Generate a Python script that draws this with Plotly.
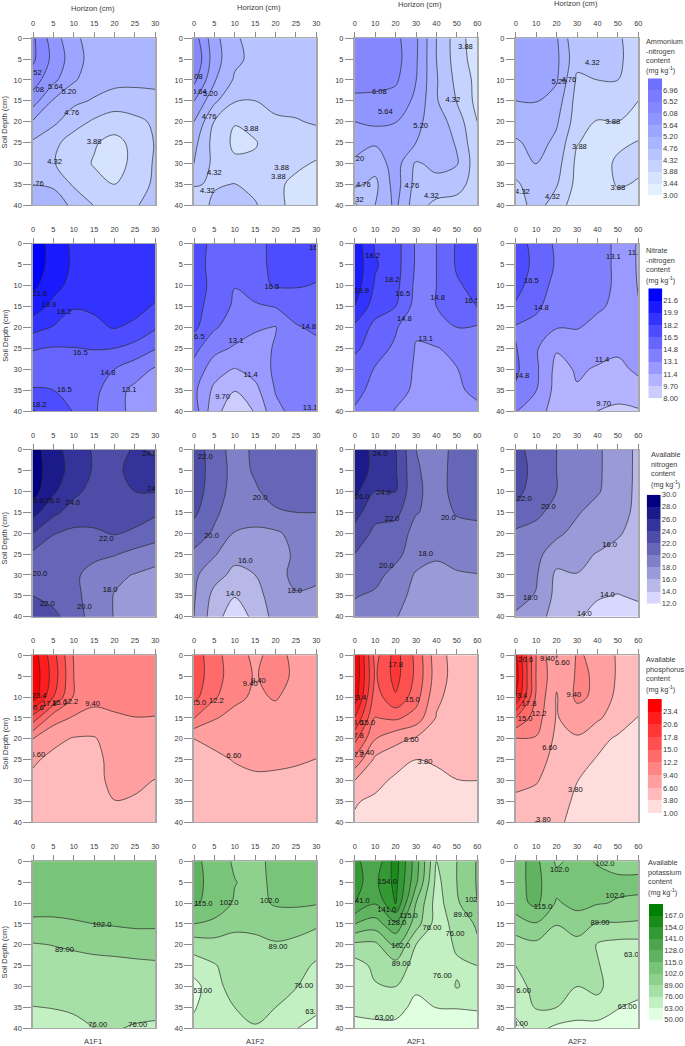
import plotly.graph_objects as go

# ---- grid of every panel: soil depth rows, horizon columns
depth = [0, 5, 10, 15, 20, 25, 30, 35, 40]
horizon_a1 = [0, 5, 10, 15, 20, 25, 30]
horizon_a2 = [0, 10, 20, 30, 40, 50, 60]
treatments = ["A1F1", "A1F2", "A2F1", "A2F2"]

# ---- ammonium nitrogen
nh4_ticks = [3.00, 3.44, 3.88, 4.32, 4.76, 5.20, 5.64, 6.08, 6.52, 6.96]
nh4_text = ["3.00", "3.44", "3.88", "4.32", "4.76", "5.20", "5.64", "6.08", "6.52", "6.96"]
nh4_colors = ["#e3f1ff", "#d5e3ff", "#c6d3ff", "#b8c4ff", "#aab5ff", "#9ca5ff", "#9096ff", "#8587ff", "#7b7bff", "#7070ff"]
nh4_a1f1 = [
    [6.60, 5.85, 5.30, 5.00, 4.95, 4.90, 4.90],
    [6.60, 5.95, 5.40, 5.00, 4.95, 4.90, 4.90],
    [6.30, 5.75, 5.25, 4.95, 4.90, 4.85, 4.85],
    [5.85, 5.15, 4.85, 4.72, 4.55, 4.60, 4.65],
    [5.15, 4.85, 4.52, 4.25, 4.10, 4.20, 4.40],
    [4.70, 4.45, 4.10, 3.92, 3.75, 4.00, 4.35],
    [4.60, 4.35, 4.05, 3.85, 3.70, 4.00, 4.38],
    [4.75, 4.72, 4.25, 4.00, 3.87, 4.10, 4.40],
    [5.00, 4.90, 4.70, 4.30, 4.25, 4.30, 4.40],
]
nh4_a1f2 = [
    [6.30, 5.35, 4.80, 4.65, 4.60, 4.60, 4.60],
    [6.50, 5.40, 4.85, 4.65, 4.60, 4.60, 4.70],
    [6.20, 5.25, 4.70, 4.60, 4.55, 4.55, 4.60],
    [5.65, 4.85, 4.35, 4.32, 4.45, 4.50, 4.55],
    [5.20, 4.30, 3.90, 4.05, 4.25, 4.28, 4.38],
    [4.90, 4.15, 3.80, 3.85, 4.10, 4.10, 4.05],
    [4.76, 4.20, 3.95, 3.95, 4.00, 3.95, 3.85],
    [4.35, 4.28, 4.33, 4.15, 3.95, 3.80, 3.75],
    [4.10, 4.40, 4.45, 4.37, 3.95, 3.80, 3.70],
]
nh4_a2f1 = [
    [6.30, 6.30, 6.20, 5.72, 4.76, 4.10, 3.60],
    [6.30, 6.30, 6.25, 5.70, 4.76, 4.12, 3.65],
    [6.30, 6.25, 6.15, 5.65, 4.80, 4.20, 3.75],
    [5.95, 5.95, 5.90, 5.55, 4.80, 4.30, 3.75],
    [5.64, 5.75, 5.66, 5.30, 5.00, 4.55, 3.88],
    [5.45, 5.25, 5.30, 5.20, 5.00, 4.72, 3.95],
    [5.10, 4.95, 5.40, 4.70, 4.90, 4.80, 4.05],
    [4.85, 4.65, 5.40, 4.60, 4.60, 4.50, 4.10],
    [4.25, 4.76, 5.30, 4.50, 4.20, 4.15, 4.10],
]
nh4_a2f2 = [
    [5.55, 5.50, 5.25, 4.35, 4.38, 4.38, 4.10],
    [5.55, 5.55, 5.30, 4.45, 4.40, 4.40, 4.10],
    [5.55, 5.55, 5.25, 4.25, 4.32, 4.32, 4.05],
    [5.20, 5.22, 5.00, 4.15, 4.10, 4.00, 3.88],
    [5.05, 5.00, 4.82, 4.10, 3.85, 3.88, 3.65],
    [4.68, 4.95, 4.65, 3.90, 3.75, 3.80, 3.90],
    [4.55, 4.78, 4.50, 3.78, 3.70, 3.95, 3.95],
    [4.25, 4.55, 4.36, 3.75, 3.65, 3.92, 3.85],
    [4.10, 4.50, 4.10, 3.65, 3.60, 3.70, 3.75],
]
nh4_a1f1_labels = [(0.3, 8.3, "6.52"), (0.9, 12.5, "6.08"), (5.5, 11.7, "5.64"), (8.8, 12.8, "5.20"), (9.5, 18, "4.76"), (15, 25, "3.88"), (5.3, 29.8, "4.32"), (0.8, 35, "4.76")]
nh4_a1f2_labels = [(0.3, 9.3, "6.08"), (1.3, 13, "5.64"), (4, 13.5, "5.20"), (3.7, 19, "4.76"), (14, 21.8, "3.88"), (5, 32.4, "4.32"), (21.5, 31.2, "3.88"), (20.7, 33.4, "3.88"), (3.3, 36.6, "4.32")]
nh4_a2f1_labels = [(12.1, 12.9, "6.08"), (15, 17.7, "5.64"), (32.3, 21, "5.20"), (48, 14.8, "4.32"), (54.2, 2, "3.88"), (1, 29, "5.20"), (4.2, 35.3, "4.76"), (28, 35.4, "4.76"), (37.5, 37.9, "4.32"), (0.8, 38.9, "4.32")]
nh4_a2f2_labels = [(21.2, 10.6, "5.20"), (26, 10, "4.76"), (37.5, 6, "4.32"), (47.5, 20, "3.88"), (31.2, 26, "3.88"), (50, 35.9, "3.88"), (3.3, 37, "4.32"), (18, 38, "4.32")]

# ---- nitrate nitrogen
no3_ticks = [8.00, 9.70, 11.4, 13.1, 14.8, 16.5, 18.2, 19.9, 21.6]
no3_text = ["8.00", "9.70", "11.4", "13.1", "14.8", "16.5", "18.2", "19.9", "21.6"]
no3_colors = ["#ccccff", "#b3b3ff", "#9999ff", "#8080ff", "#6666ff", "#4d4dff", "#3333ff", "#1a1aff", "#0000ff"]
no3_a1f1 = [
    [22.5, 21.0, 19.5, 19.3, 19.2, 19.2, 19.2],
    [22.5, 21.0, 19.6, 19.3, 19.2, 19.2, 19.2],
    [22.0, 20.5, 19.3, 19.2, 19.0, 19.0, 19.0],
    [20.8, 19.4, 18.25, 18.4, 19.0, 18.8, 18.0],
    [18.8, 18.1, 17.9, 17.9, 18.3, 17.8, 16.7],
    [16.6, 16.4, 16.45, 16.6, 16.5, 15.9, 14.9],
    [15.8, 15.7, 15.7, 15.3, 14.8, 13.9, 12.9],
    [16.6, 16.5, 16.3, 15.3, 13.7, 12.7, 12.2],
    [18.3, 17.5, 16.4, 15.0, 13.7, 12.6, 12.4],
]
no3_a1f2 = [
    [17.0, 16.2, 15.9, 16.0, 16.9, 17.0, 17.0],
    [17.0, 16.1, 15.7, 16.1, 16.8, 17.0, 17.0],
    [17.0, 16.2, 14.85, 16.0, 16.65, 16.65, 16.4],
    [17.0, 15.9, 14.5, 14.5, 14.9, 15.3, 15.5],
    [16.9, 15.0, 14.0, 13.4, 13.0, 14.7, 15.0],
    [15.3, 13.6, 12.9, 12.2, 13.3, 14.2, 14.5],
    [14.2, 12.2, 11.3, 12.1, 13.4, 13.9, 14.2],
    [13.5, 11.0, 9.75, 10.9, 13.2, 13.9, 14.1],
    [14.0, 10.2, 8.80, 9.80, 12.7, 13.6, 13.6],
]
no3_a2f1 = [
    [20.9, 18.0, 17.2, 14.6, 14.8, 16.7, 17.0],
    [21.0, 18.4, 17.2, 14.6, 14.8, 16.7, 17.0],
    [20.8, 18.0, 17.0, 14.4, 14.8, 16.3, 17.0],
    [19.9, 17.3, 16.5, 14.2, 14.8, 15.8, 16.6],
    [17.8, 16.0, 15.0, 13.3, 14.4, 14.8, 14.6],
    [16.9, 15.5, 14.5, 13.0, 13.0, 13.6, 14.1],
    [15.6, 14.7, 14.0, 12.9, 12.7, 13.05, 13.8],
    [15.1, 14.5, 13.7, 12.8, 12.7, 12.9, 13.4],
    [14.7, 14.1, 13.0, 12.7, 12.6, 12.7, 12.8],
]
no3_a2f2 = [
    [17.3, 15.9, 14.5, 13.9, 13.5, 12.9, 11.2],
    [17.3, 16.1, 14.6, 13.9, 13.5, 12.9, 11.2],
    [17.1, 15.6, 14.3, 13.9, 13.5, 12.9, 11.3],
    [16.3, 15.1, 14.0, 13.6, 13.3, 12.8, 11.5],
    [14.6, 14.3, 13.2, 13.2, 12.7, 12.3, 11.95],
    [14.9, 13.3, 11.55, 12.1, 11.8, 11.55, 11.9],
    [15.1, 13.4, 10.9, 11.55, 11.3, 11.2, 11.55],
    [14.6, 13.15, 10.8, 11.3, 10.9, 10.5, 11.1],
    [13.2, 12.0, 10.8, 10.6, 9.70, 9.30, 9.50],
]
no3_a1f1_labels = [(1.7, 12, "21.6"), (3.9, 14.7, "19.9"), (7.6, 16.4, "18.2"), (11.6, 26.2, "16.5"), (18.4, 31, "14.8"), (7.7, 35, "16.5"), (23.6, 34.9, "13.1"), (1.5, 38.6, "18.2")]
no3_a1f2_labels = [(30, 1, "16.5"), (19.1, 10.4, "16.5"), (28.1, 20, "14.8"), (0.8, 22.3, "16.5"), (10.3, 23.3, "13.1"), (13.9, 31.5, "11.4"), (7, 36.6, "9.70"), (28.5, 39.3, "13.1")]
no3_a2f1_labels = [(8.8, 2.9, "18.2"), (18.3, 8.8, "18.2"), (3.4, 11.3, "19.9"), (23.5, 12.1, "16.5"), (40.6, 13, "14.8"), (57.3, 13.7, "16.5"), (24.3, 18, "14.8"), (34.7, 22.8, "13.1")]
no3_a2f2_labels = [(7.7, 8.9, "16.5"), (12.6, 15.3, "14.8"), (47.8, 3.2, "13.1"), (58.5, 2.2, "11.4"), (42.3, 27.9, "11.4"), (43, 38.3, "9.70"), (3, 31.6, "14.8")]

# ---- available nitrogen
an_ticks = [12.0, 14.0, 16.0, 18.0, 20.0, 22.0, 24.0, 26.0, 28.0, 30.0]
an_text = ["12.0", "14.0", "16.0", "18.0", "20.0", "22.0", "24.0", "26.0", "28.0", "30.0"]
an_colors = ["#d8d8ff", "#b8b8e8", "#9a9ad8", "#8080c8", "#6666b8", "#4d4da8", "#33339a", "#1a1a8a", "#000080"]
an_a1f1 = [
    [28.8, 26.8, 25.0, 23.8, 23.0, 24.3, 23.7],
    [28.9, 27.0, 25.2, 23.8, 23.5, 24.7, 24.6],
    [28.8, 26.3, 24.5, 23.3, 23.2, 24.0, 24.05],
    [26.7, 24.5, 23.1, 22.9, 22.9, 22.8, 22.3],
    [24.0, 22.1, 21.6, 21.7, 22.15, 21.7, 20.9],
    [21.6, 20.9, 20.6, 20.4, 20.15, 19.4, 18.9],
    [20.5, 20.5, 20.3, 19.4, 18.4, 17.9, 17.4],
    [22.0, 21.2, 20.5, 19.2, 17.9, 17.4, 17.1],
    [23.3, 22.6, 20.8, 19.3, 17.9, 17.3, 17.0],
]
an_a1f2 = [
    [23.0, 21.1, 19.1, 20.4, 20.7, 20.8, 20.8],
    [23.0, 21.2, 19.3, 20.2, 20.8, 20.8, 20.8],
    [22.9, 21.0, 19.2, 19.8, 20.6, 20.7, 20.7],
    [22.4, 20.4, 18.9, 19.2, 19.8, 20.0, 20.0],
    [21.1, 19.7, 17.9, 17.5, 17.7, 18.6, 19.0],
    [19.6, 18.2, 16.6, 16.8, 17.2, 18.3, 18.6],
    [18.4, 16.7, 15.5, 16.0, 17.6, 18.3, 18.2],
    [18.2, 15.4, 14.1, 15.4, 16.8, 17.9, 17.8],
    [18.0, 14.9, 12.7, 14.6, 16.7, 17.2, 17.3],
]
an_a2f1 = [
    [27.0, 25.5, 24.1, 20.0, 19.3, 20.5, 20.7],
    [27.0, 25.5, 24.2, 20.2, 19.3, 20.6, 20.7],
    [26.5, 24.0, 24.0, 20.3, 19.4, 20.5, 20.7],
    [24.7, 22.7, 22.6, 20.1, 19.5, 20.1, 20.2],
    [23.4, 21.5, 21.0, 19.4, 18.9, 19.6, 19.7],
    [22.0, 20.9, 20.6, 18.9, 18.2, 18.7, 19.3],
    [20.9, 20.6, 19.3, 17.8, 17.6, 17.8, 17.9],
    [20.1, 19.7, 18.6, 17.5, 17.2, 17.3, 17.5],
    [19.5, 19.2, 18.1, 17.2, 17.0, 17.0, 17.1],
]
an_a2f2 = [
    [22.6, 21.2, 20.0, 19.0, 18.3, 17.0, 15.6],
    [22.7, 21.5, 20.0, 19.0, 18.3, 17.0, 15.6],
    [22.5, 21.2, 20.0, 19.0, 18.2, 16.9, 15.6],
    [21.5, 20.5, 19.2, 18.2, 17.2, 16.6, 15.6],
    [19.6, 19.2, 18.4, 17.4, 16.9, 16.2, 15.3],
    [19.0, 18.5, 17.0, 16.5, 15.9, 15.4, 15.0],
    [18.8, 18.2, 15.6, 15.95, 15.4, 15.0, 14.9],
    [18.5, 17.9, 15.4, 15.0, 14.2, 13.9, 14.3],
    [17.8, 16.8, 15.2, 14.3, 13.3, 12.8, 13.2],
]
an_a1f1_labels = [(0.8, 12.3, "28.0"), (4.8, 12.2, "26.0"), (9.8, 12.7, "24.0"), (28.6, 1, "24.0"), (29.8, 9.4, "24.0"), (18, 21.5, "22.0"), (1.7, 29.8, "20.0"), (3.5, 37, "22.0"), (12.6, 37.6, "20.0"), (18.9, 33.6, "18.0")]
an_a1f2_labels = [(2.8, 1.8, "22.0"), (16.2, 11.5, "20.0"), (4.3, 20.6, "20.0"), (12.6, 26.8, "16.0"), (9.6, 34.7, "14.0"), (24.7, 33.9, "18.0")]
an_a2f1_labels = [(12.4, 1, "24.0"), (3.6, 11.3, "26.0"), (14, 10.4, "24.0"), (18.3, 16.7, "22.0"), (45.8, 16.3, "20.0"), (34.7, 24.9, "18.0"), (15.5, 28, "20.0")]
an_a2f2_labels = [(4.2, 11.8, "22.0"), (16, 13.8, "20.0"), (46, 22.8, "16.0"), (44.9, 34.8, "14.0"), (33.6, 39.4, "14.0"), (7.2, 35.6, "18.0")]

# ---- available phosphorus
ap_ticks = [1.00, 3.80, 6.60, 9.40, 12.2, 15.0, 17.8, 20.6, 23.4]
ap_text = ["1.00", "3.80", "6.60", "9.40", "12.2", "15.0", "17.8", "20.6", "23.4"]
ap_colors = ["#ffdddd", "#ffbbbb", "#ff9f9f", "#ff8585", "#ff6b6b", "#ff5050", "#ff3636", "#ff1c1c", "#ff0000"]
ap_a1f1 = [
    [25.0, 18.8, 12.0, 11.0, 10.9, 10.8, 10.8],
    [25.5, 19.4, 12.2, 11.0, 10.9, 10.8, 10.8],
    [25.0, 17.8, 11.9, 10.3, 10.4, 10.4, 10.4],
    [16.6, 10.6, 9.1, 8.4, 9.0, 9.35, 9.3],
    [9.40, 7.30, 6.4, 6.4, 7.8, 8.3, 8.3],
    [7.00, 5.90, 5.2, 6.0, 7.3, 7.8, 8.0],
    [6.00, 5.50, 5.2, 5.8, 7.3, 7.2, 6.5],
    [5.80, 5.40, 5.1, 5.5, 6.55, 6.3, 5.7],
    [5.50, 5.20, 5.0, 5.0, 5.3, 5.2, 5.0],
]
ap_a1f2 = [
    [16.5, 13.3, 10.4, 8.9, 10.2, 8.8, 8.6],
    [16.5, 13.5, 10.6, 9.2, 10.4, 8.9, 8.6],
    [15.8, 12.6, 10.0, 9.0, 9.6, 8.5, 8.4],
    [12.3, 9.6, 8.6, 8.3, 8.5, 8.4, 8.2],
    [6.60, 7.3, 7.6, 7.8, 7.9, 7.8, 7.6],
    [5.60, 6.0, 6.75, 7.1, 7.1, 6.95, 6.55],
    [5.30, 5.4, 5.8, 6.2, 6.1, 5.8, 5.6],
    [5.10, 5.2, 5.4, 5.6, 5.5, 5.3, 5.2],
    [5.00, 5.0, 5.1, 5.2, 5.1, 5.0, 5.0],
]
ap_a2f1 = [
    [26.0, 14.0, 18.9, 14.3, 7.7, 5.5, 5.3],
    [26.0, 14.6, 18.8, 14.4, 8.0, 5.4, 5.2],
    [25.0, 13.5, 17.5, 13.4, 7.2, 5.3, 5.2],
    [20.6, 12.1, 12.7, 11.0, 6.4, 5.1, 5.0],
    [15.9, 9.5, 7.4, 6.2, 5.3, 5.0, 4.9],
    [11.5, 6.0, 4.9, 3.8, 4.15, 4.6, 4.7],
    [6.60, 4.6, 3.3, 3.0, 3.1, 3.75, 3.8],
    [4.00, 3.3, 2.9, 2.6, 2.7, 3.1, 3.1],
    [3.50, 3.0, 2.7, 2.5, 2.5, 2.6, 2.7],
]
ap_a2f2 = [
    [24.0, 12.2, 6.5, 9.6, 9.0, 6.2, 5.4],
    [25.0, 12.1, 7.2, 9.7, 9.2, 6.2, 5.3],
    [23.4, 11.8, 6.4, 10.0, 8.8, 5.8, 5.0],
    [15.0, 10.7, 6.4, 8.0, 7.0, 5.3, 3.7],
    [9.20, 9.2, 6.0, 6.3, 4.6, 3.4, 3.0],
    [8.30, 7.7, 5.7, 4.8, 3.6, 3.0, 2.6],
    [7.40, 6.8, 5.3, 3.85, 3.0, 2.6, 2.3],
    [6.00, 5.7, 4.9, 3.3, 2.6, 2.3, 2.1],
    [4.90, 3.7, 4.3, 3.0, 2.4, 2.1, 2.0],
]
ap_a1f1_labels = [(1.5, 9.8, "23.4"), (0.8, 12.7, "20.6"), (4, 11.8, "17.8"), (6.5, 11.4, "15.0"), (9.3, 11.3, "12.2"), (14.6, 11.7, "9.40"), (1.2, 23.8, "6.60")]
ap_a1f2_labels = [(1.2, 11.4, "15.0"), (5.5, 11, "12.2"), (13.8, 7, "9.40"), (15.8, 6.2, "9.40"), (9.8, 24.2, "6.60")]
ap_a2f1_labels = [(20, 2.3, "17.8"), (2, 10.2, "23.4"), (28.2, 10.7, "15.0"), (0.5, 16.2, "20.6"), (6.4, 16.2, "15.0"), (0.8, 19.4, "17.8"), (1, 24, "12.2"), (5.9, 23.4, "9.40"), (27.7, 20.3, "6.60"), (34.4, 25.6, "3.80")]
ap_a2f2_labels = [(4.9, 1.1, "20.6"), (15.5, 1, "9.40"), (22.8, 1.8, "6.60"), (28.5, 9.5, "9.40"), (2, 9.7, "23.4"), (6.5, 11.8, "17.8"), (11.4, 14, "12.2"), (4.6, 15.4, "15.0"), (16.6, 22.2, "6.60"), (29.2, 32.2, "3.80"), (13.5, 39.5, "3.80")]

# ---- available potassium
ak_ticks = [50, 63, 76, 89, 102, 115, 128, 141, 154, 167]
ak_text = ["50.00", "63.00", "76.00", "89.00", "102.0", "115.0", "128.0", "141.0", "154.0", "167.0"]
ak_colors = ["#e0ffe0", "#c2f0c2", "#a6e0a6", "#8ed18e", "#78c478", "#60b360", "#4da64d", "#339933", "#1a8c1a", "#008000"]
ak_a1f1 = [
    [112, 112, 112, 112, 112, 112, 112],
    [110, 110, 110, 110, 110, 110, 110],
    [106, 106, 106, 106, 106, 106, 106],
    [100, 100, 101, 102, 103, 104, 104],
    [88, 89.3, 91, 93, 94, 95, 95],
    [84, 84, 84, 84.5, 85, 86, 87],
    [81, 81, 81, 81, 81, 81, 81],
    [75.7, 76.3, 77, 78, 78.5, 78.5, 78.5],
    [71, 72, 74, 76, 76.5, 75.3, 74.5],
]
ak_a1f2 = [
    [118, 110, 100, 98, 106, 108, 108],
    [118.5, 111, 102.5, 98, 105, 108, 108],
    [117, 110, 100.5, 98, 103.5, 104, 103],
    [102, 99, 91, 92, 94, 94, 91],
    [81.5, 84, 86, 86, 88, 86, 82],
    [70, 75, 82, 83, 83, 81, 74],
    [58, 72, 81, 82, 80, 76.5, 70],
    [62, 70, 76, 80, 76, 71, 66],
    [66, 66, 70, 75, 72, 63.5, 58],
]
ak_a2f1 = [
    [145, 131, 160, 121, 76, 89, 103],
    [143, 138, 158, 118, 72, 89, 103],
    [142, 129, 155, 102, 70, 87, 102],
    [115, 109, 125, 95, 70, 80, 91],
    [86, 86, 103, 76, 68, 78, 87],
    [70, 79, 84, 71, 66, 74, 76],
    [68, 75, 76, 65, 66, 77, 70],
    [66, 67, 67, 60, 63.2, 63.5, 64],
    [59, 60, 60, 55, 56, 56, 58],
]
ak_a2f2 = [
    [112, 118, 100, 106, 101, 97, 97],
    [112, 118, 107, 106, 106, 105, 105],
    [110, 118, 100.5, 106, 103, 101, 100],
    [95, 101, 89.5, 95, 88, 88, 87],
    [84, 86, 82, 85, 75, 72, 72],
    [76, 82, 80, 80, 77, 69, 68],
    [71, 80, 78.5, 76, 78, 71, 68],
    [66, 77, 76, 71, 73, 63.5, 60],
    [60, 67, 60, 58, 57, 58, 57],
]
ak_a1f1_labels = [(16.9, 15.4, "102.0"), (7.7, 21.2, "89.00"), (15.9, 39.2, "76.00"), (25.7, 39.2, "76.00")]
ak_a1f2_labels = [(2.3, 10.2, "115.0"), (8.6, 10, "102.0"), (18.5, 9.6, "102.0"), (20.6, 20.6, "89.00"), (26.9, 29.8, "76.00"), (2.1, 31, "63.00"), (29.6, 36.2, "63.00")]
ak_a2f1_labels = [(16, 5, "154.0"), (2.7, 9.5, "141.0"), (15.7, 11.7, "141.0"), (26.4, 13.1, "115.0"), (20.6, 14.8, "128.0"), (37.8, 16, "76.00"), (53, 12.8, "89.00"), (58.6, 9.3, "102.0"), (49.1, 17.5, "76.00"), (22.5, 20.4, "102.0"), (22.8, 24.6, "89.00"), (42.9, 27.5, "76.00"), (14.5, 37.6, "63.00")]
ak_a2f2_labels = [(21.4, 2, "102.0"), (43.7, 0.7, "102.0"), (48.6, 8.3, "102.0"), (13.4, 11, "115.0"), (41.3, 14.7, "89.00"), (57.6, 22.4, "63.00"), (54.6, 35, "63.00"), (2.8, 31, "76.00"), (1.4, 39, "63.00")]

rows = [
    (nh4_ticks, nh4_text, nh4_colors, [nh4_a1f1, nh4_a1f2, nh4_a2f1, nh4_a2f2], [nh4_a1f1_labels, nh4_a1f2_labels, nh4_a2f1_labels, nh4_a2f2_labels]),
    (no3_ticks, no3_text, no3_colors, [no3_a1f1, no3_a1f2, no3_a2f1, no3_a2f2], [no3_a1f1_labels, no3_a1f2_labels, no3_a2f1_labels, no3_a2f2_labels]),
    (an_ticks, an_text, an_colors, [an_a1f1, an_a1f2, an_a2f1, an_a2f2], [an_a1f1_labels, an_a1f2_labels, an_a2f1_labels, an_a2f2_labels]),
    (ap_ticks, ap_text, ap_colors, [ap_a1f1, ap_a1f2, ap_a2f1, ap_a2f2], [ap_a1f1_labels, ap_a1f2_labels, ap_a2f1_labels, ap_a2f2_labels]),
    (ak_ticks, ak_text, ak_colors, [ak_a1f1, ak_a1f2, ak_a2f1, ak_a2f2], [ak_a1f1_labels, ak_a1f2_labels, ak_a2f1_labels, ak_a2f2_labels]),
]
bar_titles = [
    ["Ammonium", "-nitrogen", "content", "(mg kg<sup>-1</sup>)"],
    ["Nitrate", "-nitrogen", "content", "(mg kg<sup>-1</sup>)"],
    ["Available", "nitrogen", "content", "(mg kg<sup>-1</sup>)"],
    ["Available", "phosphorus", "content", "(mg kg<sup>-1</sup>)"],
    ["Available", "potassium", "content", "(mg kg<sup>-1</sup>)"],
]

# ---- layout in pixels of the 685x1046 page
W, H = 685, 1046
FONT = "Liberation Sans"
TEXT = "#3a3a3a"
FRAME = "#a8a8a8"
col_px = [(33, 155.3), (194, 316.3), (354.7, 477.3), (515.7, 638.3)]
row_px = [(38.3, 205), (243.7, 411), (449.7, 616.7), (655.3, 822.3), (861.3, 1028.3)]
bar_x_px = [(648, 662), (648.3, 662.3), (646.7, 660.7), (647.7, 662), (649, 663.3)]
bar_y_px = [(78.3, 195), (288.3, 398.3), (494.7, 603.7), (699, 813.3), (904, 1019.7)]
bar_title_x = [644, 644, 649, 644, 645.7]
bar_title_y = [41.7, 250.7, 454.7, 659.7, 862.7]
depth_title_y = [121.7, 335, 537.7, 743, 951.7]
horizon_title_x = [93, 258.7, 419.7, 575.7]
horizon_title_y = [8, 7, 5, 4]
bottom_title_x = [93, 255, 416, 577]


def paper_x(px):
    return px / W


def paper_y(px):
    return 1 - px / H


def note(text, x, y, size=7.6, xanchor="center", **kw):
    return dict(text=text, x=paper_x(x), y=paper_y(y), xref="paper", yref="paper", showarrow=False,
                xanchor=xanchor, yanchor="middle", font=dict(family=FONT, size=size, color=TEXT), **kw)


fig = go.Figure()
notes = []
n_axis = 0

for r, (ticks, tick_text, colors, panels, labels) in enumerate(rows):
    n_bands = len(colors)
    step = ticks[1] - ticks[0]
    scale = [[i / (n_bands - 1), c] for i, c in enumerate(colors)]
    for c in range(4):
        n_axis += 1
        xs = horizon_a1 if c < 2 else horizon_a2
        fig.add_trace(go.Contour(
            x=xs, y=depth, z=panels[c], xaxis=f"x{n_axis}", yaxis=f"y{n_axis}",
            autocontour=False, colorscale=scale, showscale=False,
            contours=dict(start=ticks[1], end=ticks[n_bands - 1], size=step, coloring="fill"),
            line=dict(color="#2b2b2b", width=0.7, smoothing=1),
            hoverinfo="skip",
        ))
        fig.add_trace(go.Scatter(
            x=[p[0] for p in labels[c]], y=[p[1] for p in labels[c]], text=[p[2] for p in labels[c]],
            mode="text", textposition="middle center", xaxis=f"x{n_axis}", yaxis=f"y{n_axis}",
            textfont=dict(family=FONT, size=7.6, color="#111111"), hoverinfo="skip", showlegend=False,
        ))
        fig.layout[f"xaxis{n_axis}"] = dict(
            domain=[paper_x(col_px[c][0]), paper_x(col_px[c][1])], anchor=f"y{n_axis}", side="top",
            range=[xs[0], xs[-1]], tickvals=xs, ticks="outside", ticklen=5, tickcolor="#8c8c8c", tickwidth=1,
            ticklabelstandoff=3,
            showline=True, mirror=True, linecolor=FRAME, linewidth=1, showgrid=False, zeroline=False,
            tickfont=dict(family=FONT, size=7.4, color=TEXT),
        )
        fig.layout[f"yaxis{n_axis}"] = dict(
            domain=[paper_y(row_px[r][1]), paper_y(row_px[r][0])], anchor=f"x{n_axis}",
            range=[40, 0], tickvals=depth, ticks="outside", ticklen=8, tickcolor="#8c8c8c", tickwidth=1,
            showline=True, mirror=True, linecolor=FRAME, linewidth=1.5, showgrid=False, zeroline=False,
            tickfont=dict(family=FONT, size=7.4, color=TEXT),
        )

    # legend bar on its own little axis, one cell per band
    n_axis += 1
    edges = ticks + [ticks[-1] + step] if len(ticks) == n_bands else ticks
    stepped = []
    for i, col in enumerate(colors):
        stepped += [[i / n_bands, col], [(i + 1) / n_bands, col]]
    fig.add_trace(go.Heatmap(
        x=[0, 1], y=edges, z=[[i + 0.5] for i in range(n_bands)], zmin=0, zmax=n_bands,
        colorscale=stepped, showscale=False, xaxis=f"x{n_axis}", yaxis=f"y{n_axis}", hoverinfo="skip",
    ))
    fig.layout[f"xaxis{n_axis}"] = dict(
        domain=[paper_x(bar_x_px[r][0]), paper_x(bar_x_px[r][1])], anchor=f"y{n_axis}",
        range=[0, 1], visible=False,
    )
    fig.layout[f"yaxis{n_axis}"] = dict(
        domain=[paper_y(bar_y_px[r][1]), paper_y(bar_y_px[r][0])], anchor=f"x{n_axis}", side="right",
        range=[edges[0], edges[-1]], tickvals=ticks, ticktext=tick_text, ticks="", ticklen=0,
        showline=False, showgrid=False, zeroline=False,
        tickfont=dict(family=FONT, size=7.6, color=TEXT),
    )

    notes.append(note("Soil Depth (cm)", 4.7, depth_title_y[r], textangle=-90))
    for k, line in enumerate(bar_titles[r]):
        notes.append(note(line, bar_title_x[r], bar_title_y[r] + k * 9.6, size=7.3, xanchor="left"))

for c in range(4):
    notes.append(note("Horizon (cm)", horizon_title_x[c], horizon_title_y[c]))
    notes.append(note(treatments[c], bottom_title_x[c], 1041.5))

fig.update_layout(
    width=W, height=H, autosize=False, margin=dict(l=0, r=0, t=0, b=0, autoexpand=False),
    paper_bgcolor="white", plot_bgcolor="white", showlegend=False, annotations=notes,
    font=dict(family=FONT),
)

fig.write_html("out.html", post_script="document.body.style.margin='0';", config=dict(displayModeBar=False))
